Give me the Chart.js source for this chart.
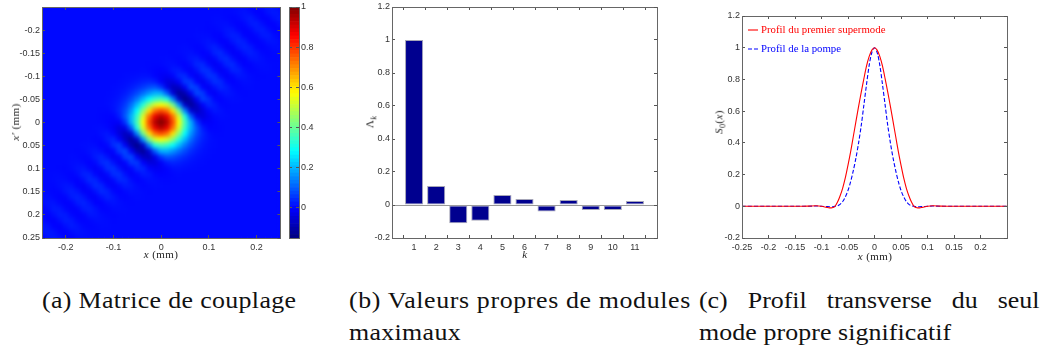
<!DOCTYPE html>
<html>
<head>
  <meta charset="utf-8">
  <title>Matrice de couplage</title>
  <script src="https://cdn.jsdelivr.net/npm/chart.js"></script>
  <style>
    html, body { margin: 0; padding: 0; background: #fff; width: 1045px; height: 354px; overflow: hidden; }
    canvas { position: absolute; filter: blur(0.35px); }
    .axis-title { position: absolute; font: 11px "Liberation Serif", serif; color: #222; white-space: nowrap; transform: translate(-50%, -50%); letter-spacing: 0.4px; filter: blur(0.3px); }
    .axis-title.rot { transform: translate(-50%, -50%) rotate(-90deg); }
    .axis-title sub { font-size: 8px; }
    .caption { position: absolute; font: 22.5px/32px "Liberation Serif", serif; color: #111; white-space: nowrap; letter-spacing: 0.3px; transform: scaleX(1.15); transform-origin: left center; }
    .caption.just { white-space: normal; text-align: justify; text-align-last: justify; letter-spacing: 0; }
  </style>
</head>
<body>
  <canvas id="heat" width="285" height="254" style="left:0;top:0"></canvas>
  <canvas id="bar" width="38" height="254" style="left:285px;top:0"></canvas>
  <canvas id="vals" width="320" height="254" style="left:345px;top:0"></canvas>
  <canvas id="prof" width="340" height="254" style="left:700px;top:0"></canvas>

  <div class="axis-title" style="left:161px;top:254px"><i>x</i> (mm)</div>
  <div class="axis-title rot" style="left:15px;top:122px"><i>x′</i> (mm)</div>
  <div class="axis-title" style="left:525px;top:254px"><i>k</i></div>
  <div class="axis-title rot" style="left:371px;top:122px">Λ<sub><i>k</i></sub></div>
  <div class="axis-title" style="left:875px;top:256px"><i>x</i> (mm)</div>
  <div class="axis-title rot" style="left:720px;top:122px"><i>S</i><sub>0</sub>(<i>x</i>)</div>

  <div class="caption" style="left:42px;top:285px">(a) Matrice de couplage</div>
  <div class="caption" style="left:349px;top:285px;letter-spacing:0.55px">(b) Valeurs propres de modules</div>
  <div class="caption" style="left:349px;top:317px">maximaux</div>
  <div class="caption just" style="left:699px;top:285px;width:296px">(c) Profil transverse du seul</div>
  <div class="caption" style="left:699px;top:317px;letter-spacing:0.08px">mode propre significatif</div>

  <script>
    // matrice de couplage, grille 41x41 sur +-0.25 mm, valeurs en millièmes
    // chaque ligne: colonne de départ puis valeurs, le reste vaut 0
    const gridStep = 0.0125;
    const couplingRows = [
      [32, 2,5,2,-5,-5,8,17,10,-5],
      [31, -1,0,6,11,4,-8,-7,10,18,10],
      [29, 2,2,-1,-4,-1,12,20,6,-10,-7,10,17],
      [28, -1,2,6,6,-2,-8,-2,17,24,6,-10,-7,8],
      [26, 1,0,-2,-2,4,14,14,-4,-11,-2,18,24,6,-8,-5],
      [26, 2,4,2,-5,-6,10,25,19,-5,-12,-2,17,20,4,-5],
      [25, -1,0,6,12,4,-10,-10,13,29,20,-5,-11,-2,12,11,2],
      [23, 1,3,0,-4,-1,15,27,7,-14,-12,14,29,19,-4,-8,-1,6,5],
      [22, -1,1,5,8,0,-9,-2,27,37,8,-15,-12,13,25,14,-2,-4,0,2],
      [20, 1,2,0,-3,2,15,20,0,-17,-3,31,40,8,-14,-10,10,14,6,-1,-1],
      [18, -1,-2,-1,5,7,-1,-8,5,33,35,0,-20,-3,31,37,7,-10,-6,4,6,2],
      [17, 2,-1,-6,-8,-3,16,19,-2,-17,8,45,41,0,-20,-3,27,27,4,-5,-2,2,2],
      [14, 2,4,6,9,7,-5,-18,-21,-6,34,36,-4,-22,10,48,41,0,-17,-2,15,12,2,-2,-1],
      [13, 2,5,9,16,25,32,21,-15,-45,-45,-12,56,53,-5,-25,10,45,35,0,-9,-1,6,4],
      [12, 2,5,10,20,37,57,78,88,51,-32,-84,-75,-18,73,60,-5,-23,8,33,20,0,-4,0,2],
      [11, 1,4,9,20,42,74,114,158,192,189,96,-53,-123,-97,-20,74,56,-4,-17,5,15,8,0,-1],
      [11, 2,6,16,37,74,130,204,282,338,360,315,141,-68,-140,-98,-19,63,41,-2,-8,2,5,3],
      [11, 2,9,25,57,114,204,320,437,528,563,528,407,160,-68,-123,-75,-12,34,19,-1,-3,1],
      [10, -1,-1,7,32,78,158,282,437,600,728,774,728,600,407,141,-53,-84,-45,-6,16,8],
      [10, -2,-4,-5,21,88,192,338,528,728,880,941,880,728,528,315,96,-32,-45,-21,-2,5,2],
      [10, -1,-6,-15,-15,51,189,360,563,774,941,1000,941,774,563,360,189,51,-15,-15,-6,-1],
      [9, 2,5,-2,-21,-45,-32,96,315,528,728,880,941,880,728,528,338,192,88,21,-5,-4,-2],
      [10, 8,16,-6,-45,-84,-53,141,407,600,728,774,728,600,437,282,158,78,32,7,-1,-1],
      [8, 1,-3,-1,19,34,-12,-75,-123,-68,160,407,528,563,528,437,320,204,114,57,25,9,2],
      [7, 3,5,2,-8,-2,41,63,-19,-98,-140,-68,141,315,360,338,282,204,130,74,37,16,6,2],
      [6, -1,0,8,15,5,-17,-4,56,74,-20,-97,-123,-53,96,189,192,158,114,74,42,20,9,4,1],
      [5, 2,0,-4,0,20,33,8,-23,-5,60,73,-18,-75,-84,-32,51,88,78,57,37,20,10,5,2],
      [5, 4,6,-1,-9,0,35,45,10,-25,-5,53,56,-12,-45,-45,-15,21,32,25,16,9,5,2],
      [3, -1,-2,2,12,15,-2,-17,0,41,48,10,-22,-4,36,34,-6,-21,-18,-5,7,9,6,4,2],
      [2, 2,2,-2,-5,4,27,27,-3,-20,0,41,45,8,-17,-2,19,16,-3,-8,-6,-1,2],
      [2, 2,6,4,-6,-10,7,37,31,-3,-20,0,35,33,5,-8,-1,7,5,-1,-2,-1],
      [1, -1,-1,6,14,10,-10,-14,8,40,31,-3,-17,0,20,15,2,-3,0,2,1],
      [0, 2,0,-4,-2,14,25,13,-12,-15,8,37,27,-2,-9,0,8,5,1,-1],
      [0, 5,6,-1,-8,-4,19,29,14,-12,-14,7,27,15,-1,-4,0,3,1],
      [0, 2,11,12,-2,-11,-5,20,29,13,-10,-10,4,12,6,0,-1],
      [0, -5,4,20,17,-2,-12,-5,19,25,10,-6,-5,2,4,2],
      [0, -5,-8,6,24,18,-2,-11,-4,14,14,4,-2,-2,0,1],
      [0, 8,-7,-10,6,24,17,-2,-8,-2,6,6,2,-1],
      [0, 17,10,-7,-10,6,20,12,-1,-4,-1,2,2],
      [0, 10,18,10,-7,-8,4,11,6,0,-1],
      [0, -5,10,17,8,-5,-5,2,5,2]
    ];
    const colorMin = -0.153;
    const colorMax = 1;

    const heatXTicks = [-0.2, -0.1, 0, 0.1, 0.2];
    const heatYTicks = [-0.2, -0.15, -0.1, -0.05, 0, 0.05, 0.1, 0.15, 0.2, 0.25];
    const barTicks = [0, 0.2, 0.4, 0.6, 0.8, 1];

    const modes = [1, 2, 3, 4, 5, 6, 7, 8, 9, 10, 11];
    const eigenvalues = [1, 0.115, -0.11, -0.095, 0.06, 0.037, -0.04, 0.03, -0.03, -0.03, 0.025];
    const valsYTicks = [-0.2, 0, 0.2, 0.4, 0.6, 0.8, 1, 1.2];

    const profX = [-0.25, -0.2, -0.15, -0.125, -0.11, -0.1, -0.09, -0.085, -0.08, -0.075, -0.07, -0.065, -0.06, -0.055, -0.05, -0.045, -0.04, -0.035, -0.03, -0.025, -0.02, -0.015, -0.01, -0.005, 0,
                   0.005, 0.01, 0.015, 0.02, 0.025, 0.03, 0.035, 0.04, 0.045, 0.05, 0.055, 0.06, 0.065, 0.07, 0.075, 0.08, 0.085, 0.09, 0.1, 0.11, 0.125, 0.15, 0.2, 0.25];
    const supermode = [0, 0, 0, 0.001, 0.003, 0, -0.007, -0.01, -0.009, -0.002, 0.025, 0.065, 0.115, 0.18, 0.26, 0.345, 0.44, 0.535, 0.63, 0.72, 0.805, 0.885, 0.945, 0.985, 1,
                       0.985, 0.945, 0.885, 0.805, 0.72, 0.63, 0.535, 0.44, 0.345, 0.26, 0.18, 0.115, 0.065, 0.025, -0.002, -0.009, -0.01, -0.007, 0, 0.003, 0.001, 0, 0, 0];
    const pompe = [0, 0, 0, 0, 0.002, 0, -0.002, -0.003, -0.003, 0, 0.003, 0.012, 0.03, 0.06, 0.1, 0.155, 0.225, 0.305, 0.4, 0.51, 0.64, 0.77, 0.89, 0.97, 1,
                   0.97, 0.89, 0.77, 0.64, 0.51, 0.4, 0.305, 0.225, 0.155, 0.1, 0.06, 0.03, 0.012, 0.003, 0, -0.003, -0.003, -0.002, 0, 0.002, 0, 0, 0, 0];
    const profXTicks = [-0.25, -0.2, -0.15, -0.1, -0.05, 0, 0.05, 0.1, 0.15, 0.2];
    const profYTicks = [-0.2, 0, 0.2, 0.4, 0.6, 0.8, 1, 1.2];

    function jet(t) {
      const r = Math.max(0, Math.min(1, Math.min(4 * t - 1.5, 4.5 - 4 * t)));
      const g = Math.max(0, Math.min(1, Math.min(4 * t - 0.5, 3.5 - 4 * t)));
      const b = Math.max(0, Math.min(1, Math.min(4 * t + 0.5, 2.5 - 4 * t)));
      return `rgb(${Math.round(r * 255)},${Math.round(g * 255)},${Math.round(b * 255)})`;
    }

    function axis(position, tickList, min, max, size, labels) {
      const horizontal = position === 'top' || position === 'bottom';
      return {
        type: 'linear',
        position,
        min,
        max,
        afterBuildTicks: s => { s.ticks = tickList.map(value => ({ value })); },
        afterFit: s => {
          if (horizontal) s.height = size; else s.width = size;
          // le cadre reste à la place voulue, les étiquettes peuvent déborder
          s.paddingTop = s.paddingBottom = s.paddingLeft = s.paddingRight = 0;
        },
        border: { display: true, color: '#666', width: 1, z: 1 },
        grid: { display: true, drawOnChartArea: false, tickLength: -3, tickColor: '#555', z: 1 },
        ticks: {
          display: !!labels,
          autoSkip: false,
          maxRotation: 0,
          padding: horizontal ? 7 : 5,
          color: '#333',
          font: { family: '"Liberation Sans"', size: 9 },
          callback: v => (labels === true ? String(v) : '')
        }
      };
    }

    const common = {
      responsive: false,
      animation: false,
      events: [],
      plugins: { legend: { display: false }, tooltip: { enabled: false } }
    };

    // (a) cellules de la matrice
    const cells = [];
    couplingRows.forEach((row, j) => {
      for (let i = 0; i <= 40; i++) {
        const v = i >= row[0] && i - row[0] + 1 < row.length ? row[i - row[0] + 1] : 0;
        cells.push({ x: -0.25 + i * gridStep, y: -0.25 + j * gridStep, v: v / 1000 });
      }
    });

    // adoucit les cellules déjà dessinées, comme l'interpolation de la figure
    const soften = {
      id: 'soften',
      afterDatasetsDraw(chart) {
        const a = chart.chartArea;
        const ctx = chart.ctx;
        ctx.save();
        ctx.beginPath();
        ctx.rect(a.left, a.top, a.right - a.left, a.bottom - a.top);
        ctx.clip();
        ctx.filter = 'blur(2px)';
        ctx.drawImage(chart.canvas, a.left, a.top, a.right - a.left, a.bottom - a.top,
          a.left, a.top, a.right - a.left, a.bottom - a.top);
        ctx.restore();
      }
    };

    new Chart(document.getElementById('heat'), {
      type: 'scatter',
      data: {
        datasets: [{
          data: cells,
          clip: 0,
          pointStyle: 'rect',
          pointRadius: 4.6,
          pointBorderWidth: 0,
          pointBackgroundColor: cells.map(c => jet((c.v - colorMin) / (colorMax - colorMin)))
        }]
      },
      options: {
        ...common,
        layout: { padding: { top: 7, right: 4 } },
        scales: {
          x: axis('bottom', heatXTicks, -0.25, 0.25, 16, true),
          xTop: axis('top', heatXTicks, -0.25, 0.25, 0),
          y: { ...axis('left', heatYTicks, -0.25, 0.25, 42, true), reverse: true },
          yRight: { ...axis('right', heatYTicks, -0.25, 0.25, 0), reverse: true }
        }
      },
      plugins: [soften]
    });

    // barre de couleurs
    const barLevels = Array.from({ length: 64 }, (_, k) => k);
    new Chart(document.getElementById('bar'), {
      type: 'bar',
      data: {
        datasets: barLevels.map(k => ({
          data: [{
            x: 0.5,
            y: [colorMin + k * (colorMax - colorMin) / 64, colorMin + (k + 1) * (colorMax - colorMin) / 64]
          }],
          backgroundColor: jet((k + 0.5) / 64),
          borderWidth: 0,
          barPercentage: 1,
          categoryPercentage: 1,
          grouped: false
        }))
      },
      options: {
        ...common,
        layout: { padding: { top: 7, bottom: 16, left: 4 } },
        scales: {
          x: axis('bottom', [], 0, 1, 0),
          xTop: axis('top', [], 0, 1, 0),
          yLeft: { ...axis('left', barTicks, colorMin, colorMax, 0), axis: 'y' },
          y: axis('right', barTicks, colorMin, colorMax, 24, true)
        }
      }
    });

    // (b) valeurs propres
    new Chart(document.getElementById('vals'), {
      type: 'bar',
      data: {
        datasets: [{
          data: modes.map((k, i) => ({ x: k, y: eigenvalues[i] })),
          backgroundColor: '#00008f',
          borderColor: '#a6a6b8',
          borderWidth: 1,
          borderSkipped: false,
          barPercentage: 0.82,
          categoryPercentage: 1
        }]
      },
      options: {
        ...common,
        layout: { padding: { top: 7, right: 8 } },
        scales: {
          x: {
            ...axis('bottom', modes, 0, 12, 16, true),
            offset: false
          },
          xTop: { ...axis('top', modes, 0, 12, 0), offset: false },
          y: (() => {
            const a = axis('left', valsYTicks, -0.2, 1.2, 47, true);
            a.grid = {
              ...a.grid,
              z: 0,
              drawOnChartArea: true,
              color: ctx => (ctx.tick && ctx.tick.value === 0 ? '#999' : 'rgba(0,0,0,0)')
            };
            return a;
          })(),
          yRight: axis('right', valsYTicks, -0.2, 1.2, 0)
        }
      }
    });

    // (c) profils, légende dessinée dans le cadre
    const legendRows = [30, 49];
    const insideLegend = {
      id: 'insideLegend',
      afterDatasetsDraw(chart) {
        const ctx = chart.ctx;
        const a = chart.chartArea;
        chart.data.datasets.forEach((ds, i) => {
          ctx.save();
          ctx.strokeStyle = ds.borderColor;
          ctx.lineWidth = ds.borderWidth;
          ctx.setLineDash(ds.borderDash || []);
          ctx.beginPath();
          ctx.moveTo(a.left + 6, legendRows[i]);
          ctx.lineTo(a.left + 16, legendRows[i]);
          ctx.stroke();
          ctx.fillStyle = ds.borderColor;
          ctx.font = '10.8px "Liberation Serif"';
          ctx.textBaseline = 'middle';
          ctx.fillText(ds.label, a.left + 19, legendRows[i]);
          ctx.restore();
        });
      }
    };

    new Chart(document.getElementById('prof'), {
      type: 'scatter',
      data: {
        datasets: [
          {
            label: 'Profil du premier supermode',
            data: profX.map((x, i) => ({ x, y: supermode[i] })),
            showLine: true,
            borderColor: '#ff0000',
            borderWidth: 1.1,
            pointRadius: 0,
            tension: 0.3
          },
          {
            label: 'Profil de la pompe',
            data: profX.map((x, i) => ({ x, y: pompe[i] })),
            showLine: true,
            borderColor: '#0000ff',
            borderWidth: 1.1,
            borderDash: [4, 2],
            pointRadius: 0,
            tension: 0.3
          }
        ]
      },
      options: {
        ...common,
        layout: { padding: { top: 16, right: 33 } },
        scales: {
          x: axis('bottom', profXTicks, -0.25, 0.25, 16, true),
          xTop: axis('top', profXTicks, -0.25, 0.25, 0),
          y: axis('left', profYTicks, -0.2, 1.2, 42, true),
          yRight: axis('right', profYTicks, -0.2, 1.2, 0)
        }
      },
      plugins: [insideLegend]
    });
  </script>
</body>
</html>
